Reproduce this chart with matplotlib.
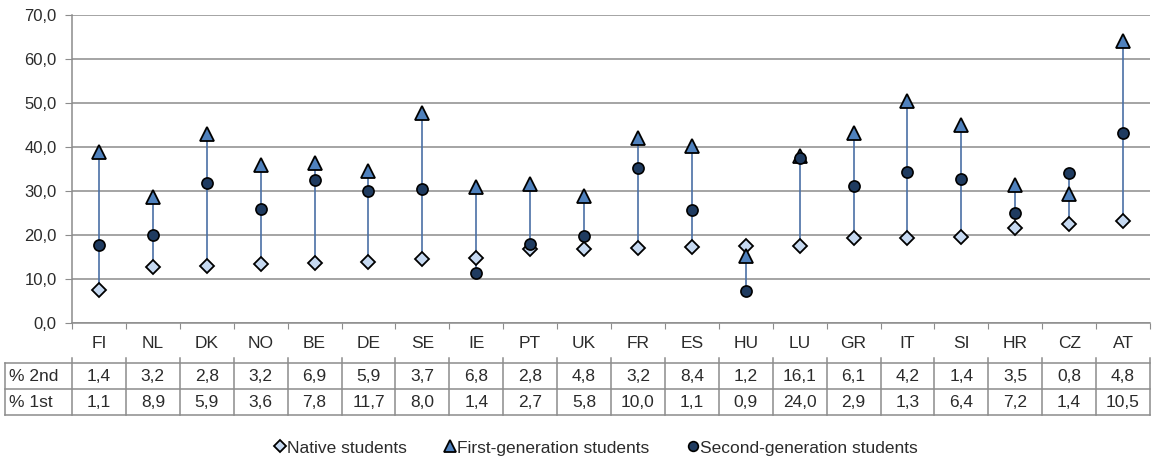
import numpy as np
import matplotlib
matplotlib.use("Agg")
import matplotlib.pyplot as plt
from matplotlib.lines import Line2D

plt.rcParams["font.family"] = ["Liberation Sans", "DejaVu Sans"]

# ---------------------------
# Data
# ---------------------------
countries = ["FI", "NL", "DK", "NO", "BE", "DE", "SE", "IE", "PT", "UK",
             "FR", "ES", "HU", "LU", "GR", "IT", "SI", "HR", "CZ", "AT"]
native = [7.5, 12.7, 12.9, 13.4, 13.6, 13.9, 14.5, 14.7, 16.8, 16.8,
          17.0, 17.3, 17.5, 17.6, 19.3, 19.3, 19.6, 21.6, 22.6, 23.1]
first_gen = [38.8, 28.6, 42.9, 35.8, 36.3, 34.5, 47.7, 30.9, 31.6, 28.9,
             42.1, 40.3, 15.3, 38.0, 43.1, 50.5, 44.9, 31.3, 29.4, 64.0]
second_gen = [17.8, 20.0, 31.8, 25.9, 32.5, 30.0, 30.5, 11.4, 18.0, 19.7,
              35.3, 25.6, 7.3, 37.6, 31.2, 34.3, 32.8, 24.9, 34.1, 43.2]
pct_2nd = [1.4, 3.2, 2.8, 3.2, 6.9, 5.9, 3.7, 6.8, 2.8, 4.8,
           3.2, 8.4, 1.2, 16.1, 6.1, 4.2, 1.4, 3.5, 0.8, 4.8]
pct_1st = [1.1, 8.9, 5.9, 3.6, 7.8, 11.7, 8.0, 1.4, 2.7, 5.8,
           10.0, 1.1, 0.9, 24.0, 2.9, 1.3, 6.4, 7.2, 1.4, 10.5]
row_labels = ["% 2nd", "% 1st"]
series_names = ["Native students", "First-generation students", "Second-generation students"]


def fmt(v):
    return f"{v:.1f}".replace(".", ",")


# ---------------------------
# Layout (pixels)
# ---------------------------
W, H = 1153, 461
ax_left, ax_right, ax_top, ax_bottom = 72, 1150, 15, 323
tab_left, tab_bottom = 5, 415

grid_col = "#8c8c8c"
text_col = "#2b2b2b"
line_col = "#4a6fa5"
c_native = "#c6d9f1"
c_first = "#4f81bd"
c_second = "#1f3b60"
fs = 12.5

fig = plt.figure(figsize=(W / 100, H / 100), dpi=100)
ax = fig.add_axes([ax_left / W, 1 - ax_bottom / H,
                   (ax_right - ax_left) / W, (ax_bottom - ax_top) / H])

x = np.arange(len(countries))
lo = np.minimum(np.minimum(native, first_gen), second_gen)
hi = np.maximum(np.maximum(native, first_gen), second_gen)
ax.vlines(x, lo, hi, color=line_col, lw=1.2, zorder=2)

ax.plot(x, native, ls="none", marker="D", ms=7, mfc=c_native, mec="black", mew=1.3, zorder=3)
ax.plot(x, first_gen, ls="none", marker="^", ms=10, mfc=c_first, mec="black", mew=1.3, zorder=4)
ax.plot(x, second_gen, ls="none", marker="o", ms=8, mfc=c_second, mec="black", mew=1.2, zorder=5)

ax.set_xlim(-0.5, len(countries) - 0.5)
ax.set_ylim(0, 70)
ax.set_yticks(np.arange(0, 71, 10))
ax.set_yticklabels([fmt(v) for v in np.arange(0, 71, 10)], fontsize=12, color=text_col)
ax.yaxis.grid(True, color=grid_col, lw=1.1)
ax.set_axisbelow(True)
ax.tick_params(axis="y", length=5, color=grid_col, pad=6)
ax.set_xticks(np.arange(-0.5, len(countries) + 0.5, 1))
ax.set_xticklabels([])
ax.tick_params(axis="x", length=4, color=grid_col)
for s in ["top", "right"]:
    ax.spines[s].set_visible(False)
for s in ["left", "bottom"]:
    ax.spines[s].set_color(grid_col)
    ax.spines[s].set_linewidth(1.1)

# ---------------------------
# Data table below the axis
# ---------------------------
unit = (ax_right - ax_left) / len(countries)
tab = fig.add_axes([tab_left / W, 1 - tab_bottom / H,
                    (ax_right - tab_left) / W, (tab_bottom - ax_bottom) / H])
x0 = -0.5 - (ax_left - tab_left) / unit
tab.set_xlim(x0, len(countries) - 0.5)
tab.set_ylim(tab_bottom - ax_bottom, 0)
tab.axis("off")

row_top, row_h = 40, 26
for i, c in enumerate(countries):
    tab.text(i, 20, c, ha="center", va="center", fontsize=fs, color=text_col)
    tab.text(i, row_top + row_h / 2, fmt(pct_2nd[i]), ha="center", va="center",
             fontsize=fs, color=text_col)
    tab.text(i, row_top + 1.5 * row_h, fmt(pct_1st[i]), ha="center", va="center",
             fontsize=fs, color=text_col)
for r, lab in enumerate(row_labels):
    tab.text(x0 + 4 / unit, row_top + (r + 0.5) * row_h, lab, ha="left", va="center",
             fontsize=fs, color=text_col)

for k in range(len(countries) + 1):
    tab.plot([k - 0.5, k - 0.5], [row_top - 5, row_top + 2 * row_h], color=grid_col, lw=1.1,
             clip_on=False)
tab.plot([x0, x0], [row_top, row_top + 2 * row_h], color=grid_col, lw=1.1, clip_on=False)
for r in range(3):
    tab.plot([x0, len(countries) - 0.5], [row_top + r * row_h] * 2, color=grid_col, lw=1.1,
             clip_on=False)

# ---------------------------
# Legend
# ---------------------------
handles = [
    Line2D([], [], ls="none", marker="D", ms=6, mfc=c_native, mec="black", mew=1.3),
    Line2D([], [], ls="none", marker="^", ms=8, mfc=c_first, mec="black", mew=1.3),
    Line2D([], [], ls="none", marker="o", ms=7, mfc=c_second, mec="black", mew=1.2),
]
leg = fig.legend(handles, series_names, loc="center", bbox_to_anchor=(596 / W, 1 - 448 / H),
                 ncol=3, frameon=False, fontsize=fs, handlelength=0.6, handletextpad=0.1,
                 columnspacing=2.2, borderaxespad=0)
for t in leg.get_texts():
    t.set_color(text_col)

fig.savefig("out.png", dpi=100)
